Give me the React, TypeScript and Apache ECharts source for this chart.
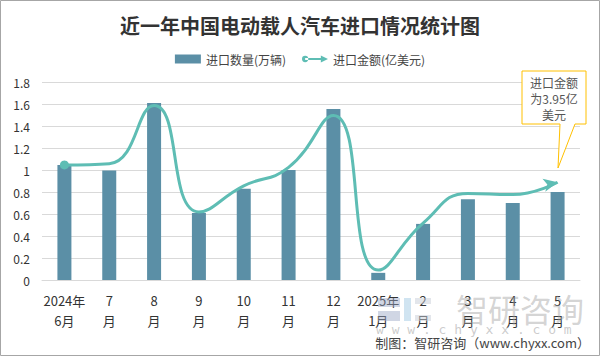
import React, { useEffect, useRef } from "react";
import * as echarts from "echarts";

const categories = ["2024年\n6月", "7\n月", "8\n月", "9\n月", "10\n月", "11\n月", "12\n月", "2025年\n1月", "2\n月", "3\n月", "4\n月", "5\n月"];
const quantity = [1.045, 0.995, 1.61, 0.61, 0.83, 1.0, 1.555, 0.065, 0.51, 0.735, 0.7, 0.8];
const amount = [4.65, 4.7, 7.05, 2.75, 3.8, 4.55, 6.65, 0.4, 2.3, 3.5, 3.45, 3.95];
const yTicks = { min: 0, max: 1.8, interval: 0.2 };
const y2Range = { min: 0, max: 8 };

const BAR = "#5b8fa6";
const LINE = "#5ebdb4";

export default function App() {
  const ref = useRef<HTMLDivElement>(null);
  useEffect(() => {
    document.body.style.margin = "0";
    const chart = echarts.init(ref.current!, null, { renderer: "svg" });
    const lineData = amount.map((v, i) => {
      if (i === 0) return { value: v, symbol: "circle", symbolSize: 9 };
      if (i === amount.length - 1) return { value: v, symbol: "arrow", symbolSize: [10, 14], symbolRotate: -78 };
      return { value: v, symbol: "none" };
    });
    chart.setOption({
      animation: false,
      backgroundColor: "#fff",
      title: {
        text: "近一年中国电动载人汽车进口情况统计图",
        left: "center",
        top: 10,
        textStyle: { fontFamily: "Noto Sans CJK SC", fontSize: 20, fontWeight: "bold", color: "#333" },
      },
      legend: {
        top: 48,
        left: "center",
        itemGap: 16,
        textStyle: { fontFamily: "Noto Sans CJK SC", fontSize: 12, color: "#444" },
        data: [
          { name: "进口数量(万辆)", icon: "rect", itemStyle: { color: BAR } },
          { name: "进口金额(亿美元)", icon: "path://M0,10a7,7 0 1,0 14,0a7,7 0 1,0 -14,0zM7,8h38v4h-38zM42,2L58,10L42,18z" },
        ],
        itemWidth: 26,
        itemHeight: 9,
      },
      grid: { left: 42, right: 20, top: 82, bottom: 76, containLabel: false },
      xAxis: {
        type: "category",
        data: categories,
        axisLine: { lineStyle: { color: "#d9d9d9" } },
        axisTick: { show: false },
        axisLabel: {
          interval: 0,
          margin: 10,
          fontFamily: "Noto Sans CJK SC",
          fontSize: 13,
          lineHeight: 20,
          color: "#333",
        },
      },
      yAxis: [
        {
          type: "value",
          min: yTicks.min,
          max: yTicks.max,
          interval: yTicks.interval,
          axisLine: { show: false },
          axisTick: { show: false },
          splitLine: { lineStyle: { color: "#d9d9d9" } },
          axisLabel: { fontFamily: "Noto Sans CJK SC", fontSize: 12, color: "#333", margin: 12 },
        },
        { type: "value", min: y2Range.min, max: y2Range.max, show: false, splitLine: { show: false } },
      ],
      series: [
        {
          name: "进口数量(万辆)",
          type: "bar",
          data: quantity,
          barWidth: 14,
          itemStyle: { color: BAR },
        },
        {
          name: "进口金额(亿美元)",
          type: "line",
          yAxisIndex: 1,
          data: lineData,
          smooth: 0.5,
          showSymbol: true,
          lineStyle: { color: LINE, width: 3 },
          itemStyle: { color: LINE },
          z: 5,
        },
      ],
      graphic: [
        { type: "rect", shape: { x: 0.5, y: 0.5, width: 599, height: 355 }, style: { fill: "none", stroke: "#a6a6a6", lineWidth: 1 }, silent: true, z: 100 },
        // callout
        {
          type: "polygon",
          shape: { points: [[522, 71], [586, 71], [586, 124], [575, 124], [558, 168], [560, 124], [522, 124]] },
          style: { fill: "#fff", stroke: "#ffc000", lineWidth: 1 },
          z: 50,
        },
        {
          type: "text",
          x: 554,
          y: 74,
          style: {
            text: "进口金额\n为3.95亿\n美元",
            fontFamily: "Noto Sans CJK SC",
            fontSize: 12,
            lineHeight: 16,
            fill: "#555",
            align: "center",
            verticalAlign: "top",
          },
          z: 51,
        },
        // watermark logo
        { type: "rect", shape: { x: 378, y: 298, width: 22, height: 9 }, style: { fill: "rgba(150,165,195,0.45)" }, z: 40 },
        { type: "rect", shape: { x: 378, y: 311, width: 22, height: 10 }, style: { fill: "rgba(150,165,195,0.45)" }, z: 40 },
        { type: "rect", shape: { x: 404, y: 298, width: 7, height: 23 }, style: { fill: "rgba(170,205,230,0.55)" }, z: 40 },
        { type: "rect", shape: { x: 415, y: 298, width: 16, height: 6 }, style: { fill: "rgba(200,205,215,0.5)" }, z: 40 },
        { type: "rect", shape: { x: 415, y: 315, width: 16, height: 6 }, style: { fill: "rgba(200,205,215,0.5)" }, z: 40 },
        {
          type: "text",
          x: 456,
          y: 292,
          style: { text: "智研咨询", fontFamily: "Noto Sans CJK SC", fontSize: 32, fill: "rgba(160,160,160,0.45)", verticalAlign: "top" },
          z: 40,
        },
        {
          type: "text",
          x: 376,
          y: 323,
          style: { text: "w w w . c h y x x . c o m", fontFamily: "DejaVu Sans Mono", fontSize: 13, fill: "rgba(160,160,160,0.55)", verticalAlign: "top" },
          z: 40,
        },
        {
          type: "text",
          x: 590,
          y: 336,
          style: { text: "制图：智研咨询（www.chyxx.com）", fontFamily: "Noto Sans CJK SC", fontSize: 13, fill: "#444", align: "right", verticalAlign: "top" },
          z: 60,
        },
      ],
    });
    return () => chart.dispose();
  }, []);
  return <div ref={ref} style={{ width: 600, height: 356 }} />;
}
